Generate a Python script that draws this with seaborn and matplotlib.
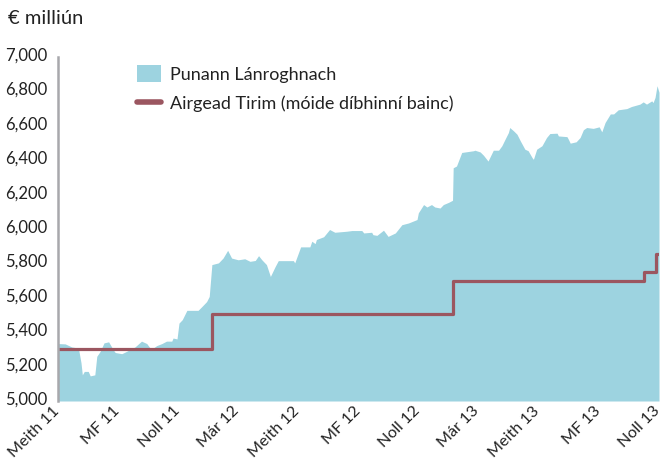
import pandas as pd
import matplotlib
matplotlib.use("Agg")
import matplotlib.pyplot as plt
import matplotlib.transforms as mtransforms
from matplotlib.patches import Patch
from matplotlib.lines import Line2D
from matplotlib.ticker import FuncFormatter
import seaborn as sns

# === Data ===
START = pd.Timestamp("2011-06-01")

# days since START, fund value (EUR million)
fund_day = [0, 11, 21, 31, 35, 37, 40, 46, 49, 56, 59, 64, 70, 77, 84, 87, 97, 104,
            117, 127, 135, 140, 145, 150, 158, 165, 173, 175, 181, 184, 189, 196, 206,
            213, 219, 226, 230, 234, 244, 251, 258, 264, 274, 284, 292, 300, 305, 310,
            317, 323, 330, 335, 358, 360, 369, 383, 386, 391, 393, 404, 413, 421, 439,
            447, 462, 465, 477, 479, 485, 495, 502, 513, 523, 533, 546, 548, 556, 561,
            568, 573, 581, 586, 594, 600, 601, 606, 614, 632, 634, 642, 647, 654, 662,
            670, 675, 680, 685, 687, 693, 698, 703, 710, 715, 721, 723, 728, 736, 743,
            748, 759, 761, 774, 776, 779, 788, 794, 799, 804, 814, 823, 827, 832, 840,
            845, 852, 865, 872, 885, 890, 895, 903, 905, 908, 911, 914]
fund_value = [5334, 5332, 5314, 5308, 5222, 5152, 5172, 5172, 5146, 5152, 5260, 5288,
              5338, 5344, 5298, 5282, 5275, 5288, 5314, 5348, 5334, 5308, 5308, 5322,
              5334, 5348, 5348, 5366, 5361, 5453, 5473, 5527, 5527, 5527, 5550, 5578,
              5608, 5793, 5803, 5831, 5876, 5831, 5821, 5827, 5812, 5817, 5845, 5821,
              5793, 5724, 5780, 5816, 5816, 5803, 5896, 5896, 5929, 5915, 5939, 5955,
              5997, 5981, 5987, 5991, 5991, 5977, 5981, 5967, 5963, 5993, 5957, 5977,
              6025, 6035, 6055, 6094, 6142, 6128, 6142, 6128, 6122, 6142, 6155, 6167,
              6356, 6366, 6445, 6455, 6458, 6448, 6429, 6395, 6458, 6458, 6484, 6523,
              6561, 6590, 6570, 6551, 6513, 6464, 6455, 6415, 6405, 6464, 6484, 6532,
              6555, 6557, 6541, 6537, 6523, 6499, 6507, 6532, 6577, 6590, 6585, 6594,
              6565, 6619, 6669, 6669, 6693, 6700, 6712, 6726, 6739, 6726, 6745, 6735,
              6765, 6833, 6795]

cash_day = [0, 234, 601, 891, 910, 914]
cash_value = [5300, 5507, 5700, 5752, 5857, 5857]

tick_dates = ["2011-06-01", "2011-09-01", "2011-12-01", "2012-03-01", "2012-06-01",
              "2012-09-01", "2012-12-01", "2013-03-01", "2013-06-01", "2013-09-01",
              "2013-12-01"]
tick_labels = ["Meith 11", "MF 11", "Noll 11", "Már 12", "Meith 12", "MF 12",
               "Noll 12", "Már 13", "Meith 13", "MF 13", "Noll 13"]

fund_label = "Punann Lánroghnach"
cash_label = "Airgead Tirim (móide díbhinní bainc)"

FUND_COLOR = "#9dd3e0"
CASH_COLOR = "#9b5660"
AXIS_GREY = "#a8a8ac"
TEXT_COLOR = "#222222"

fund = pd.DataFrame({"date": START + pd.to_timedelta(fund_day, unit="D"), "value": fund_value})
cash = pd.DataFrame({"date": START + pd.to_timedelta(cash_day, unit="D"), "value": cash_value})

# === Plot ===
sns.set_style("white")
plt.rcParams["font.family"] = ["Lato", "DejaVu Sans"]

fig = plt.figure(figsize=(6.62, 4.65), dpi=100)
ax = fig.add_axes([58 / 662, 1 - 401 / 465, 601 / 662, 344 / 465])

ax.fill_between(fund["date"], 5000, fund["value"], color=FUND_COLOR, linewidth=0)
sns.lineplot(data=cash, x="date", y="value", drawstyle="steps-post", color=CASH_COLOR,
             linewidth=2.3, ax=ax)

ax.set_xlim(pd.Timestamp(tick_dates[0]), pd.Timestamp(tick_dates[-1]))
ax.set_ylim(5000, 7000)
ax.set_yticks(range(5000, 7001, 200))
ax.yaxis.set_major_formatter(FuncFormatter(lambda v, p: f"{int(v):,}"))
ax.set_xticks(pd.to_datetime(tick_dates))
ax.set_xticklabels(tick_labels, rotation=45, ha="right", va="top", rotation_mode="anchor")
ax.set_xlabel("")
ax.set_ylabel("")

ax.tick_params(axis="y", length=0, pad=8, labelsize=12, labelcolor=TEXT_COLOR)
ax.tick_params(axis="x", length=0, pad=2, labelsize=11.6, labelcolor=TEXT_COLOR)

# nudge tick labels like the original
y_off = mtransforms.ScaledTranslation(0, 2 / 72, fig.dpi_scale_trans)
for lbl in ax.get_yticklabels():
    lbl.set_transform(lbl.get_transform() + y_off)
x_off = mtransforms.ScaledTranslation(-6 / 100, 0, fig.dpi_scale_trans)
for lbl in ax.get_xticklabels():
    lbl.set_transform(lbl.get_transform() + x_off)

for side in ["top", "right", "bottom"]:
    ax.spines[side].set_visible(False)
ax.spines["left"].set_color(AXIS_GREY)
ax.spines["left"].set_linewidth(1.8)

fig.text(8 / 662, 1 - 19 / 465, "€ milliún", fontsize=14.5, color=TEXT_COLOR, va="center")

handles = [Patch(facecolor=FUND_COLOR, edgecolor="none", label=fund_label),
           Line2D([0], [0], color=CASH_COLOR, linewidth=4, label=cash_label)]
ax.legend(handles=handles, loc="upper left", bbox_to_anchor=(0.131, 0.977), frameon=False,
          fontsize=13, handlelength=1.35, handleheight=1.1, handletextpad=0.5,
          labelspacing=0.65, borderpad=0, borderaxespad=0, labelcolor=TEXT_COLOR)

plt.savefig("out.png", dpi=100)
